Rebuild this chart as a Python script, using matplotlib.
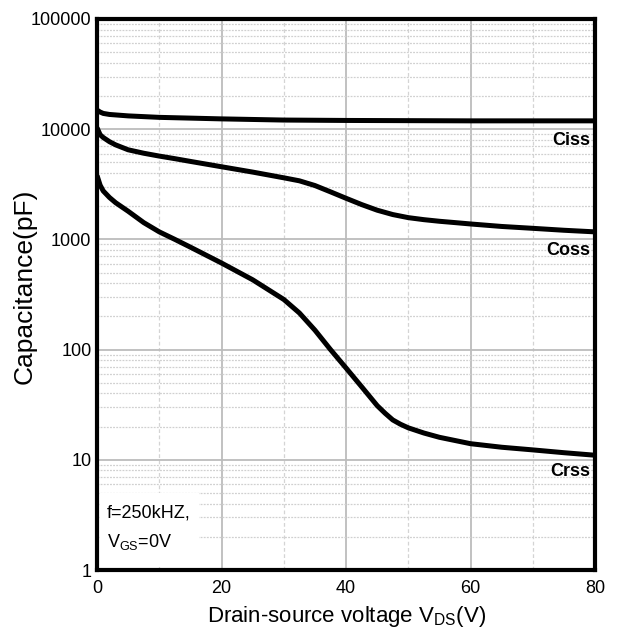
import matplotlib
matplotlib.use("Agg")
import matplotlib.pyplot as plt
from matplotlib.patches import Rectangle
from matplotlib.ticker import FixedLocator, LogLocator, NullFormatter

plt.rcParams['font.family'] = ['Liberation Sans', 'DejaVu Sans']

# values
v_ciss = [0, 0.5, 1, 2, 5, 10, 15, 20, 30, 40, 50, 60, 70, 80]
ciss = [14900, 14300, 13900, 13600, 13200, 12800, 12600, 12400, 12100, 12000, 11950, 11900, 11900, 11900]

v_out = [0, 0.5, 1, 2, 3, 5, 7.5, 10, 12.5, 15, 20, 25, 30, 32.5, 35, 37.5, 40,
         42.5, 45, 47.5, 50, 52.5, 55, 57.5, 60, 65, 70, 75, 80]
coss = [10300, 8900, 8400, 7700, 7200, 6500, 6050, 5700, 5400, 5100, 4560, 4080, 3620,
        3400, 3080, 2700, 2360, 2070, 1840, 1680, 1575, 1510, 1460, 1420,
        1380, 1310, 1260, 1210, 1170]
v_crss = [0, 0.5, 1, 2, 3, 5, 7.5, 10, 12.5, 15, 20, 25, 30, 32.5, 35, 37.5, 40,
          42.5, 45, 46.25, 47.5, 48.75, 50, 52.5, 55, 60, 65, 70, 75, 80]
crss = [3800, 3100, 2750, 2400, 2150, 1800, 1420, 1170, 1000, 850, 610, 430, 285,
        215, 150, 100, 68, 46, 31, 26.5, 23, 21, 19.5, 17.5, 16, 14, 13, 12.3, 11.6, 11]

curve_names = ['Ciss', 'Coss', 'Crss']
x_ticks = [0, 20, 40, 60, 80]
y_ticks = [1, 10, 100, 1000, 10000, 100000]

fig = plt.figure(figsize=(6.18, 6.43), dpi=100)
ax = fig.add_axes([0.157, 0.1135, 0.806, 0.857])

for xs, ys in [(v_ciss, ciss), (v_out, coss), (v_crss, crss)]:
    ax.plot(xs, ys, color='black', lw=3.6, solid_capstyle='butt',
            solid_joinstyle='round', zorder=4)

ax.set_yscale('log')
ax.set_xlim(0, 80)
ax.set_ylim(1, 100000)
ax.set_xticks(x_ticks)
ax.set_xticklabels([str(t) for t in x_ticks])
ax.set_yticks(y_ticks)
ax.set_yticklabels([str(t) for t in y_ticks])
ax.xaxis.set_minor_locator(FixedLocator([10, 30, 50, 70]))
ax.yaxis.set_minor_locator(LogLocator(base=10, subs=range(2, 10), numticks=20))
ax.yaxis.set_minor_formatter(NullFormatter())
ax.tick_params(which='both', length=0, labelsize=13, colors='black')
ax.tick_params(axis='x', pad=7)
ax.tick_params(axis='y', pad=4)

ax.set_axisbelow(True)
ax.grid(which='major', color='#bcbcbc', lw=1.3, ls='-')
ax.grid(which='minor', axis='x', color='#d4d4d4', lw=0.9, ls=(0, (3, 2)))
ax.grid(which='minor', axis='y', color='#d0d0d0', lw=0.9, ls=(0, (1.5, 1)))

for s in ax.spines.values():
    s.set_linewidth(3)
    s.set_color('black')

ax.set_xlabel('Drain-source voltage V$_{\\mathregular{DS}}$(V)', fontsize=16, labelpad=5)
ax.set_ylabel('Capacitance(pF)', fontsize=19)
ax.yaxis.set_label_coords(-0.122, 0.515)

# curve labels at right edge
label_font = dict(fontsize=13, fontweight='bold', ha='right', va='center',
                  family=['Liberation Sans Narrow', 'Liberation Sans'])
ax.text(79.2, 7900, curve_names[0], **label_font)
ax.text(79.2, 790, curve_names[1], **label_font)
ax.text(79.2, 7.9, curve_names[2], **label_font)

# white box with test conditions
ax.add_patch(Rectangle((0.005, 0.005), 0.2, 0.135, transform=ax.transAxes,
                       facecolor='white', edgecolor='none', zorder=2))
ax.text(1.6, 3.3, 'f=250kHZ,', fontsize=13, ha='left', va='center', zorder=3)
ax.text(1.6, 1.8, 'V$_{\\mathregular{GS}}$=0V', fontsize=13, ha='left', va='center', zorder=3)

fig.savefig('out.png', dpi=100)
